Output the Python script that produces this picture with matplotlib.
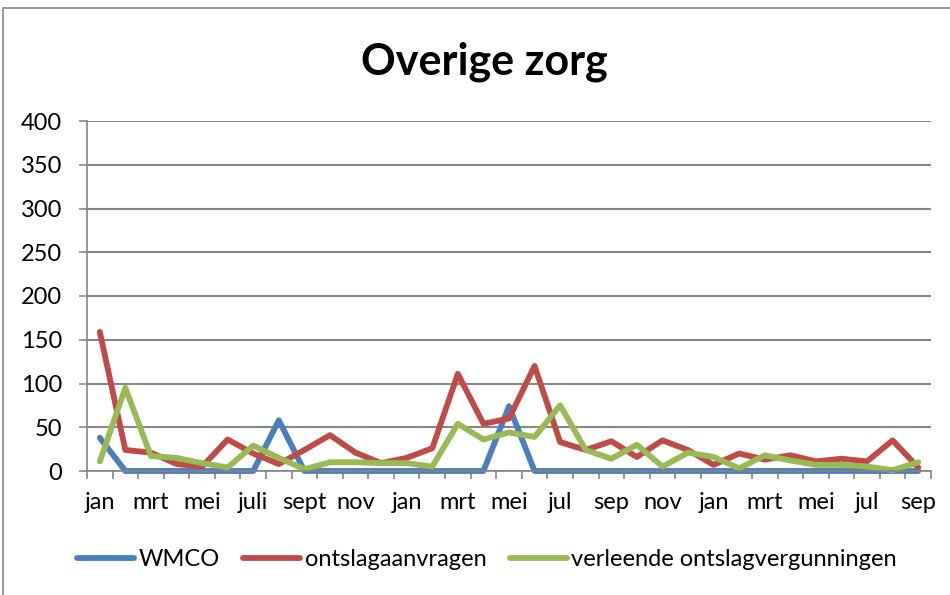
import matplotlib
matplotlib.use("Agg")
import matplotlib.pyplot as plt
from matplotlib.patches import Rectangle
import numpy as np

plt.rcParams['font.family'] = ['Lato', 'DejaVu Sans']

months = ["jan", "feb", "mrt", "apr", "mei", "jun", "juli", "aug", "sept", "okt", "nov", "dec",
          "jan", "feb", "mrt", "apr", "mei", "jun", "jul", "aug", "sep", "okt", "nov", "dec",
          "jan", "feb", "mrt", "apr", "mei", "jun", "jul", "aug", "sep"]
wmco = [38, 0, 0, 0, 0, 0, 0, 58, 0, 0, 0, 0,
        0, 0, 0, 0, 74, 0, 0, 0, 0, 0, 0, 0,
        0, 0, 0, 0, 0, 0, 0, 0, 0]
ontslagaanvragen = [159, 24, 21, 8, 5, 36, 20, 8, 24, 41, 21, 9,
                    15, 26, 111, 54, 60, 120, 33, 24, 34, 16, 35, 24,
                    7, 20, 13, 18, 11, 14, 11, 35, 4]
verleend = [11, 95, 17, 15, 9, 4, 29, 15, 2, 10, 10, 9,
            9, 5, 54, 36, 44, 39, 75, 24, 14, 30, 5, 21,
            16, 3, 18, 12, 7, 7, 5, 1, 10]
series_names = ["WMCO", "ontslagaanvragen", "verleende ontslagvergunningen"]
colors = ["#4A7EBB", "#BE4B48", "#98B954"]

W, H = 950, 595
fig = plt.figure(figsize=(W / 100, H / 100), dpi=100)
fig.patches.append(Rectangle((3 / W, -0.1), 1.2, 1 - 8 / H + 0.1, transform=fig.transFigure,
                             fill=False, edgecolor="#868686", linewidth=1.2))

ax = fig.add_axes([87 / W, 1 - 471 / H, (931 - 87) / W, (471 - 121) / H])
x = np.arange(len(months))
for vals, name, c in zip([wmco, ontslagaanvragen, verleend], series_names, colors):
    ax.plot(x, vals, color=c, lw=4.2, label=name, solid_joinstyle="round",
            solid_capstyle="round", clip_on=False)

ax.set_xlim(-0.5, len(months) - 0.5)
ax.set_ylim(0, 400)
ax.set_yticks(np.arange(0, 401, 50))
ax.yaxis.grid(True, color="#868686", lw=1.5)
ax.set_axisbelow(True)
ax.set_xticks(x[::2])
ax.set_xticklabels(months[::2])
ax.set_xticks(np.arange(-0.5, len(months)), minor=True)
ax.tick_params(axis="x", which="major", length=0, pad=15, labelsize=17)
ax.tick_params(axis="x", which="minor", length=6, color="#868686", width=1.2)
ax.tick_params(axis="y", length=6, color="#868686", width=1.2, labelsize=17, pad=12)
for s in ["top", "right"]:
    ax.spines[s].set_visible(False)
for s in ["left", "bottom"]:
    ax.spines[s].set_color("#868686")
    ax.spines[s].set_linewidth(1.2)

fig.text(484 / W, 1 - 62 / H, "Overige zorg", ha="center", va="center",
         fontsize=31, fontweight="bold")
fig.legend(loc="center", bbox_to_anchor=(487 / W, 1 - 560 / H), ncol=3, frameon=False,
           fontsize=17, handlelength=2.4, handletextpad=0.2, columnspacing=1.0)

fig.savefig("out.png", dpi=100)
